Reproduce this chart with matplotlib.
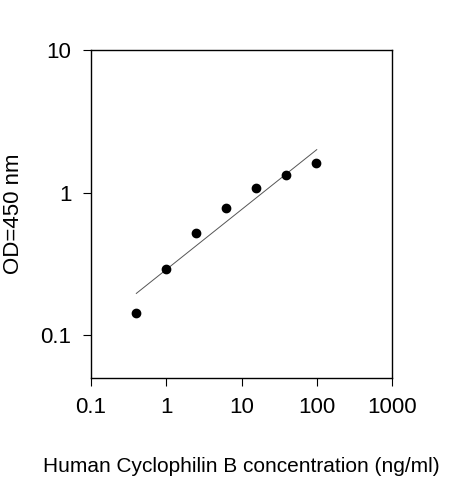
import matplotlib
matplotlib.use("Agg")
import matplotlib.pyplot as plt
import numpy as np

conc = [0.4, 1.0, 2.5, 6.25, 15.6, 39, 97.6]
od = [0.144, 0.293, 0.524, 0.785, 1.08, 1.32, 1.6]
fit_x = [0.4, 100]
fit_y = [0.196, 2.0]

plt.rcParams['font.family'] = ['Liberation Sans', 'DejaVu Sans']
fig = plt.figure(figsize=(4.63, 4.80), dpi=100)
ax = fig.add_axes([91/463, 1-378/480, 301/463, 328/480])
ax.plot(fit_x, fit_y, color='#555555', lw=0.7)
ax.scatter(conc, od, s=36, color='black', zorder=3)
ax.set_xscale('log'); ax.set_yscale('log')
ax.set_xlim(0.1, 1000)
ax.set_ylim(0.05, 10)
ax.set_xticks([0.1, 1, 10, 100, 1000])
ax.set_xticklabels(['0.1', '1', '10', '100', '1000'])
ax.set_yticks([0.1, 1, 10])
ax.set_yticklabels(['0.1', '1', '10'])
ax.minorticks_off()
ax.tick_params(labelsize=16, length=6, direction='out', pad=8)
for s in ax.spines.values():
    s.set_linewidth(1.0)
ax.set_xlabel('Human Cyclophilin B concentration (ng/ml)', fontsize=15, labelpad=28)
ax.set_ylabel('OD=450 nm', fontsize=16, labelpad=12)
fig.savefig('out.png', dpi=100)
